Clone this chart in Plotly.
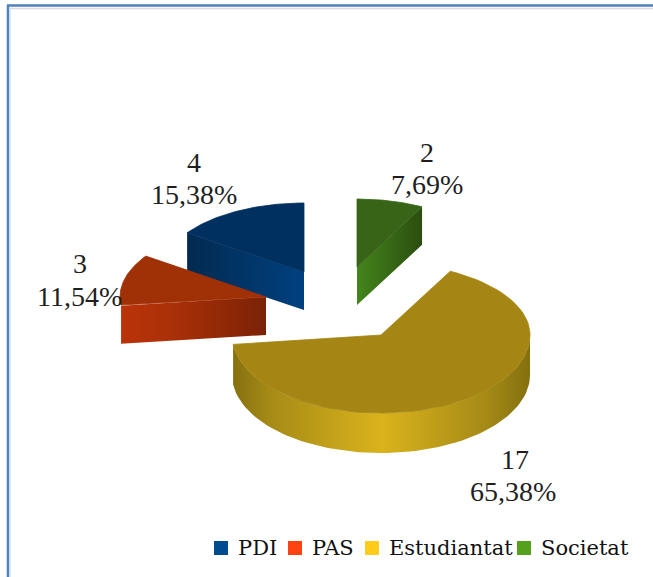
import numpy as np
import plotly.graph_objects as go

# ---- data ----
categories = ["PDI", "PAS", "Estudiantat", "Societat"]
values = [4, 3, 17, 2]
percent_labels = ["15,38%", "11,54%", "65,38%", "7,69%"]

# ---- style ----
top_colors = ["#00305f", "#a03006", "#a58615", "#376416"]
key_colors = ["#004a8f", "#ff4212", "#ffcc1c", "#57a01e"]
wall_scales = [
    [[0, "#022a50"], [1, "#004080"]],
    [[0, "#bb3309"], [0.35, "#ab3008"], [1, "#7a2206"]],
    [[0, "#86700f"], [0.12, "#a58a16"], [0.5, "#dab31c"], [0.85, "#a58a16"], [1, "#84700f"]],
    [[0, "#44851c"], [1, "#2b4d0f"]],
]
# tip position and radii (x, y above the tip, y below the tip) of every exploded slice, in page pixels
tips = [(304, 272), (266, 297), (381, 335), (357, 267)]
radii = [(142, 69, 69), (146, 72, 72), (149, 72, 78), (140, 68, 68)]
depth = 38
label_pos = [(194, 162, 194, 194), (80, 263, 79, 296), (515, 459, 513, 491), (427, 152, 427, 184)]
key_x = [221, 295, 372, 524]
text_x = [238, 312, 389, 541]
legend_y = 548

# angles clockwise from 12 o'clock; the last slice starts at the top
total = sum(values)
sweep = [v / total * 360 for v in values]
start_angle = {3: 0.0}
start_angle[2] = sweep[3]
start_angle[1] = start_angle[2] + sweep[2]
start_angle[0] = start_angle[1] + sweep[1]


def rim(i, a0, a1, n=80, dy=0):
    t = np.radians(np.linspace(a0, a1, n))
    c = np.cos(t)
    ry = np.where(c >= 0, radii[i][1], radii[i][2])
    return (tips[i][0] + radii[i][0] * np.sin(t),
            tips[i][1] - ry * c + dy)


fig = go.Figure()


def poly(x, y, line_color="rgba(0,0,0,0)", **kw):
    fig.add_trace(go.Scatter(x=list(x), y=list(y), mode="lines", fill="toself",
                             line=dict(width=0.8, color=line_color),
                             hoverinfo="skip", showlegend=False, **kw))


def slice_traces(i):
    a0 = start_angle[i]
    a1 = a0 + sweep[i]
    tx, ty = tips[i]
    grad = dict(type="horizontal", colorscale=wall_scales[i])
    if i == 2:  # outer wall of the front-facing big slice
        xa, ya = rim(i, 90, a1)
        xb, yb = rim(i, a1, 90, dy=depth + 2)
        poly(np.r_[xa, xb], np.r_[ya, yb], fillgradient=grad)
    else:  # cut face turned towards the viewer
        edge = a1 if i == 3 else a0
        if i == 3:
            edge = a1
        rx, ry = rim(i, edge, edge, n=1)
        poly([rx[0], tx, tx, rx[0]], [ry[0], ty, ty + depth, ry[0] + depth], fillgradient=grad)
    xt, yt = rim(i, a0, a1)
    poly(np.r_[tx, xt, tx], np.r_[ty, yt, ty], line_color=top_colors[i], fillcolor=top_colors[i])


for i in (0, 3, 1, 2):
    slice_traces(i)

# legend keys
fig.add_trace(go.Scatter(x=key_x, y=[legend_y] * 4, mode="markers",
                         marker=dict(symbol="square", size=14, color=key_colors),
                         hoverinfo="skip", showlegend=False))

ann = []
for i, (x1, y1, x2, y2) in enumerate(label_pos):
    for x, y, t in ((x1, y1, str(values[i])), (x2, y2, percent_labels[i])):
        ann.append(dict(x=x, y=y, text=t, showarrow=False, xanchor="center", yanchor="middle",
                        font=dict(family="Liberation Serif", size=28, color="#1f1f1f")))
for x, t in zip(text_x, categories):
    ann.append(dict(x=x, y=legend_y, text=t, showarrow=False, xanchor="left", yanchor="middle",
                    xshift=-2, font=dict(family="DejaVu Serif", size=21, color="#111111")))

frame = [
    dict(type="line", x0=7, x1=653, y0=5.5, y1=5.5, line=dict(color="#4f81bd", width=2.5)),
    dict(type="line", x0=10, x1=653, y0=8.5, y1=8.5, line=dict(color="#dcdcdc", width=1.5)),
    dict(type="line", x0=8, x1=8, y0=5, y1=577, line=dict(color="#4f81bd", width=2.5)),
    dict(type="line", x0=10, x1=10, y0=8, y1=577, line=dict(color="#cfe0f5", width=1.5)),
]

fig.update_layout(
    width=653, height=577, margin=dict(l=0, r=0, t=0, b=0),
    paper_bgcolor="white", plot_bgcolor="white",
    xaxis=dict(range=[0, 653], visible=False, fixedrange=True),
    yaxis=dict(range=[577, 0], visible=False, fixedrange=True),
    annotations=ann, shapes=frame, showlegend=False,
)
fig.write_html("out.html", config={"displayModeBar": False},
               post_script="document.body.style.margin='0';document.body.style.overflow='hidden';")
